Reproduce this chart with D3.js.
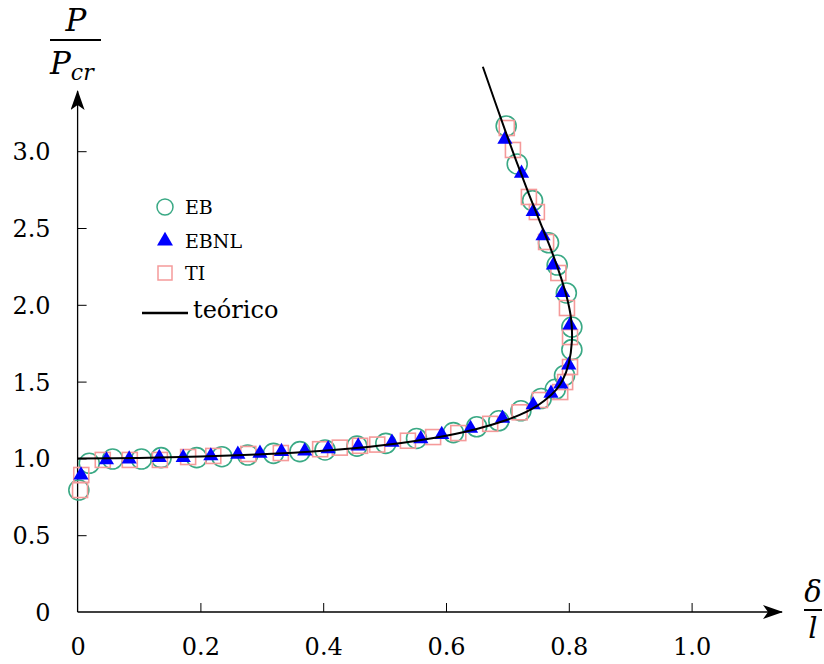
<!DOCTYPE html>
<html><head><meta charset="utf-8">
<script src="https://cdn.jsdelivr.net/npm/d3@7"></script>
<style>html,body{margin:0;padding:0;background:#fff}svg{display:block}</style>
</head><body><svg id="c" width="824" height="664"></svg>
<script>
// ---- data ----
const xTicks = [0, 0.2, 0.4, 0.6, 0.8, 1.0];
const xTickLabels = ["0", "0.2", "0.4", "0.6", "0.8", "1.0"];
const yTicks = [0, 0.5, 1.0, 1.5, 2.0, 2.5, 3.0];
const yTickLabels = ["0", "0.5", "1.0", "1.5", "2.0", "2.5", "3.0"];
const seriesNames = ["EB", "EBNL", "TI", "teórico"];

const ebX = [0.002,0.019,0.057,0.104,0.136,0.194,0.235,0.277,0.319,0.362,0.403,0.455,0.502,0.552,0.612,0.650,0.686,0.722,0.755,0.778,0.793,0.805,0.805,0.796,0.781,0.767,0.741,0.716,0.698];
const ebY = [0.794,0.968,0.996,0.996,1.005,1.005,1.011,1.022,1.033,1.044,1.055,1.080,1.098,1.130,1.168,1.206,1.245,1.310,1.390,1.450,1.540,1.708,1.855,2.077,2.259,2.404,2.678,2.917,3.164];

const ebnlX = [0.0055,0.047,0.084,0.133,0.172,0.217,0.261,0.297,0.332,0.370,0.408,0.457,0.512,0.559,0.593,0.640,0.692,0.742,0.771,0.787,0.800,0.802,0.790,0.775,0.758,0.742,0.723,0.696];
const ebnlY = [0.892,0.990,0.996,1.005,1.005,1.016,1.027,1.033,1.044,1.048,1.062,1.080,1.105,1.128,1.155,1.195,1.261,1.348,1.424,1.484,1.608,1.868,2.079,2.259,2.448,2.606,2.856,3.077];

const tiX = [0.004,0.006,0.041,0.085,0.134,0.180,0.221,0.278,0.331,0.395,0.427,0.460,0.488,0.538,0.579,0.620,0.672,0.720,0.753,0.786,0.794,0.802,0.802,0.797,0.783,0.763,0.748,0.735,0.709,0.699];
const tiY = [0.794,0.892,0.990,0.990,0.990,1.009,1.016,1.029,1.035,1.060,1.070,1.082,1.090,1.115,1.139,1.165,1.225,1.300,1.380,1.432,1.497,1.595,1.790,1.979,2.207,2.409,2.604,2.702,3.008,3.151];

const theoX = [0,0.1,0.2,0.3,0.4,0.45,0.5,0.55,0.6,0.65,0.7,0.72,0.74,0.76,0.78,0.79,0.80,0.805,0.804,0.798,0.787,0.772,0.755,0.735,0.715,0.695,0.66];
const theoY = [1.0,1.003,1.012,1.027,1.050,1.066,1.087,1.114,1.148,1.192,1.252,1.283,1.322,1.375,1.450,1.510,1.620,1.760,1.900,2.030,2.180,2.350,2.520,2.720,2.930,3.150,3.550];

// ---- drawing ----
const svg = d3.select("#c");
const x = d3.scaleLinear().domain([0, 1]).range([77.6, 691.6]);
const y = d3.scaleLinear().domain([0, 3]).range([612, 151.2]);
const FONT = "DejaVu Serif";
const cEB = "#3aa985", cTI = "#f59a9a", cNL = "#0000ff";

const defs = svg.append("defs");
defs.append("marker").attr("id","arr").attr("viewBox","0 0 20 14").attr("refX",19).attr("refY",7)
  .attr("markerWidth",20).attr("markerHeight",14).attr("markerUnits","userSpaceOnUse").attr("orient","auto")
  .append("path").attr("d","M0,0 L20,7 L0,14 L5,7 Z").attr("fill","#000");

// axes lines with arrows
svg.append("line").attr("x1", x(0)).attr("y1", y(0)).attr("x2", 782).attr("y2", y(0))
  .attr("stroke","#000").attr("stroke-width",1.3).attr("marker-end","url(#arr)");
svg.append("line").attr("x1", x(0)).attr("y1", y(0)).attr("x2", x(0)).attr("y2", 91)
  .attr("stroke","#000").attr("stroke-width",1.3).attr("marker-end","url(#arr)");

// x ticks (inward, upward)
const xa = svg.append("g").attr("transform", `translate(0,${y(0)})`)
  .call(d3.axisBottom(x).tickValues(xTicks).tickSize(-9).tickFormat((d,i)=>xTickLabels[i]));
xa.attr("font-family", FONT).attr("font-size", 24);
xa.select(".domain").remove();
xa.selectAll(".tick line").attr("stroke","#000").attr("stroke-width",1);
xa.selectAll(".tick").filter(d=>d===0).select("line").remove();
xa.selectAll(".tick text").attr("y", 26).attr("dy","0.71em").attr("fill","#000");

// y ticks (inward, right)
const ya = svg.append("g").attr("transform", `translate(${x(0)},0)`)
  .call(d3.axisLeft(y).tickValues(yTicks).tickSize(-9).tickFormat((d,i)=>yTickLabels[i]));
ya.attr("font-family", FONT).attr("font-size", 24);
ya.select(".domain").remove();
ya.selectAll(".tick line").attr("stroke","#000").attr("stroke-width",1);
ya.selectAll(".tick").filter(d=>d===0).select("line").remove();
ya.selectAll(".tick text").attr("x", -27).attr("dy","0.35em").attr("fill","#000");

// markers
const ti = tiX.map((v,i)=>[v, tiY[i]]);
const eb = ebX.map((v,i)=>[v, ebY[i]]);
const nl = ebnlX.map((v,i)=>[v, ebnlY[i]]);
const theo = theoX.map((v,i)=>[v, theoY[i]]);

svg.append("g").selectAll("circle").data(eb).join("circle")
  .attr("cx", d=>x(d[0])).attr("cy", d=>y(d[1])).attr("r", 10)
  .attr("fill","none").attr("stroke",cEB).attr("stroke-width",1.6);
svg.append("g").selectAll("rect").data(ti).join("rect")
  .attr("x", d=>x(d[0])-7.5).attr("y", d=>y(d[1])-7.5).attr("width",15).attr("height",15)
  .attr("fill","none").attr("stroke",cTI).attr("stroke-width",1.6);
const tri = d3.symbol().type(d3.symbolTriangle).size(100);
svg.append("g").selectAll("path").data(nl).join("path")
  .attr("transform", d=>`translate(${x(d[0])},${y(d[1])})`).attr("d", tri).attr("fill",cNL);

// theoretical curve
svg.append("path").datum(theo)
  .attr("d", d3.line().x(d=>x(d[0])).y(d=>y(d[1])).curve(d3.curveCatmullRom.alpha(0.5)))
  .attr("fill","none").attr("stroke","#000").attr("stroke-width",2);

// legend
const lg = svg.append("g").attr("font-family", FONT);
lg.append("circle").attr("cx",165).attr("cy",207).attr("r",8).attr("fill","none").attr("stroke",cEB).attr("stroke-width",1.5);
lg.append("path").attr("transform","translate(165,241)").attr("d", d3.symbol().type(d3.symbolTriangle).size(110)).attr("fill",cNL);
lg.append("rect").attr("x",158).attr("y",266).attr("width",14).attr("height",14).attr("fill","none").attr("stroke",cTI).attr("stroke-width",1.5);
lg.append("line").attr("x1",142).attr("x2",188).attr("y1",313).attr("y2",313).attr("stroke","#000").attr("stroke-width",2.5);
const lt = [[185,207,seriesNames[0],19],[185,241,seriesNames[1],19],[185,273,seriesNames[2],19],[193,310,seriesNames[3],24]];
lg.selectAll("text").data(lt).join("text").attr("x",d=>d[0]).attr("y",d=>d[1]).attr("dy","0.35em")
  .attr("font-size",d=>d[3]).attr("fill","#000").text(d=>d[2]);

// axis labels (fractions)
const yl = svg.append("g").attr("font-family", FONT).attr("font-style","italic").attr("fill","#000");
yl.append("text").attr("x",76).attr("y",31).attr("text-anchor","middle").attr("font-size",31).text("P");
svg.append("line").attr("x1",50).attr("x2",101).attr("y1",40).attr("y2",40).attr("stroke","#000").attr("stroke-width",2);
const pcr = yl.append("text").attr("x",50).attr("y",74).attr("font-size",31);
pcr.append("tspan").text("P");
pcr.append("tspan").attr("font-size",22).attr("dy",6).text("cr");

const xl = svg.append("g").attr("font-family", FONT).attr("font-style","italic").attr("fill","#000");
xl.append("text").attr("x",813).attr("y",602).attr("text-anchor","middle").attr("font-size",29).text("δ");
svg.append("line").attr("x1",804).attr("x2",822).attr("y1",610).attr("y2",610).attr("stroke","#000").attr("stroke-width",2);
xl.append("text").attr("x",813).attr("y",638).attr("text-anchor","middle").attr("font-size",29).text("l");
</script></body></html>
